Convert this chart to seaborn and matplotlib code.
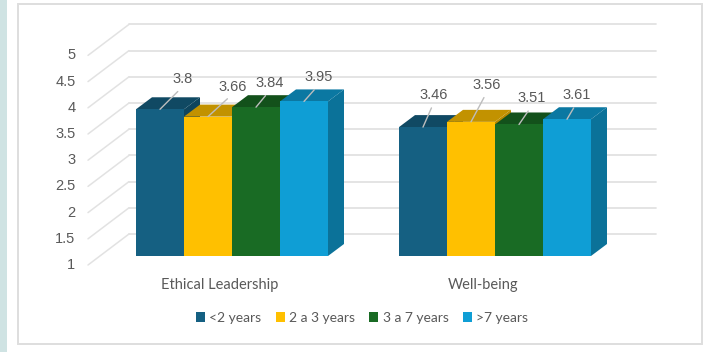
#!/usr/bin/env python3
import matplotlib

matplotlib.use("Agg")
import matplotlib.colors as mcolors
import matplotlib.pyplot as plt
import matplotlib.transforms as mtransforms
import pandas as pd
import seaborn as sns
from matplotlib.patches import Polygon, Rectangle

# chart values
constructs = ["Ethical Leadership", "Well-being"]
tenure = ["<2 years", "2 a 3 years", "3 a 7 years", ">7 years"]
under_2 = [3.8, 3.46]
from_2_to_3 = [3.66, 3.56]
from_3_to_7 = [3.84, 3.51]
over_7 = [3.95, 3.61]
y_ticks = [1, 1.5, 2, 2.5, 3, 3.5, 4, 4.5, 5]
y_tick_labels = ["1", "1.5", "2", "2.5", "3", "3.5", "4", "4.5", "5"]

# style
colors = ["#156082", "#FFC000", "#196B24", "#0F9ED5"]
text_color = "#595959"
grid_color = "#e2e2e2"
W, H = 708, 352
# label offsets from the top of each bar, pixels
label_dx = [23, 25, 14, 15, 11, 16, 13, 10]
label_dy = [30, 30, 24, 24, 32, 37, 26, 24]

sns.set_theme(style="white")
plt.rcParams["font.family"] = ["Liberation Sans", "DejaVu Sans"]

df = pd.DataFrame(
    {
        "construct": constructs * 4,
        "tenure": [t for t in tenure for _ in constructs],
        "score": under_2 + from_2_to_3 + from_3_to_7 + over_7,
    }
)

fig = plt.figure(figsize=(W / 100, H / 100), dpi=100, facecolor="white")
# axes box = floor front edge of the bars, px 88..656 and y 46.4..256
ax = fig.add_axes([88 / W, 1 - 256 / H, 568 / W, 209.6 / H])

sns.barplot(
    data=df,
    x="construct",
    y="score",
    hue="tenure",
    hue_order=tenure,
    palette=colors,
    saturation=1,
    width=0.73,
    linewidth=0,
    ax=ax,
)
ax.set_xlim((88 - 232) / 263, (656 - 232) / 263)
ax.set_ylim(1, 5)
ax.set_xlabel("")
ax.set_ylabel("")
sns.despine(ax=ax, left=True, bottom=True)

px_x = 1 / 263
px_y = 4 / 209.6
depth_x = 16 * px_x
depth_y = 12 * px_y


def shifted(dx, dy):
    return mtransforms.Affine2D().translate(dx, dy)


# back wall grid and the slanted lines on the side wall
wall = ax.get_yaxis_transform() + shifted(0, 22)
for v in y_ticks:
    ax.plot([41 / 568, 1], [v, v], color=grid_color, lw=1.3, transform=wall,
            clip_on=False, zorder=0.5)
    ax.plot([0, 41 / 568], [v - 31 * px_y, v], color=grid_color, lw=1.1,
            transform=wall, clip_on=False, zorder=0.5)

ax.set_yticks(y_ticks)
ax.set_yticklabels(y_tick_labels, fontsize=10.5, color=text_color)
ax.tick_params(axis="y", length=0, pad=9)
for lab in ax.get_yticklabels():
    lab.set_transform(lab.get_transform() + shifted(0, -7.5))

ax.tick_params(axis="x", length=0, pad=15.5)
ax.set_xticks([0, 1])
ax.set_xticklabels(constructs, family=["Lato", "DejaVu Sans"], fontsize=10.5, color=text_color)
for lab in ax.get_xticklabels():
    lab.set_transform(lab.get_transform() + shifted(-12, 0))

# 3d sides, painted left to right
bars = sorted([b for c in ax.containers for b in c], key=lambda b: b.get_x())
for i, bar in enumerate(bars):
    z = 2 + i * 0.1
    color = mcolors.to_rgb(bar.get_facecolor())
    x0 = bar.get_x()
    x1 = x0 + bar.get_width()
    top = bar.get_height()
    top_col = tuple(c * 0.76 for c in color)
    side_col = tuple(c * 0.72 for c in color)
    ax.add_patch(Polygon(
        [(x1, 1), (x1 + depth_x, 1 + depth_y), (x1 + depth_x, top + depth_y), (x1, top)],
        facecolor=side_col, linewidth=0, clip_on=False, zorder=z,
    ))
    ax.add_patch(Polygon(
        [(x0, top), (x0 + depth_x, top + depth_y), (x1 + depth_x, top + depth_y), (x1, top)],
        facecolor=top_col, linewidth=0, clip_on=False, zorder=z + 0.01,
    ))
    bar.set_zorder(z + 0.02)
    ax.annotate(
        f"{top:g}",
        xy=(x0 + bar.get_width() / 2, top),
        xytext=(label_dx[i], label_dy[i]),
        textcoords="offset pixels",
        ha="center",
        va="center",
        fontsize=10.5,
        color=text_color,
        annotation_clip=False,
        zorder=5,
        arrowprops=dict(arrowstyle="-", color="#bdbdbd", lw=1, relpos=(0.5, 0),
                        shrinkA=2, shrinkB=0),
    )

handles, labels = ax.get_legend_handles_labels()
leg = ax.legend(
    handles,
    labels,
    loc="center",
    bbox_to_anchor=(362 / W, 1 - 318 / H),
    bbox_transform=fig.transFigure,
    ncol=4,
    frameon=False,
    prop={"family": ["Lato", "DejaVu Sans"], "size": 10},
    handlelength=0.65,
    handleheight=0.65,
    handletextpad=0.3,
    columnspacing=1.05,
)
for t in leg.get_texts():
    t.set_color(text_color)

# card border and the teal strip on the left
fig.add_artist(Rectangle((18 / W, 1 - 344 / H), 684 / W, 340 / H, fill=False,
                         edgecolor="#dedede", lw=1.4, transform=fig.transFigure))
fig.add_artist(Rectangle((0, 0), 7 / W, 1, facecolor="#cfe3e3", linewidth=0,
                         transform=fig.transFigure))

fig.savefig("out.png", dpi=100)
